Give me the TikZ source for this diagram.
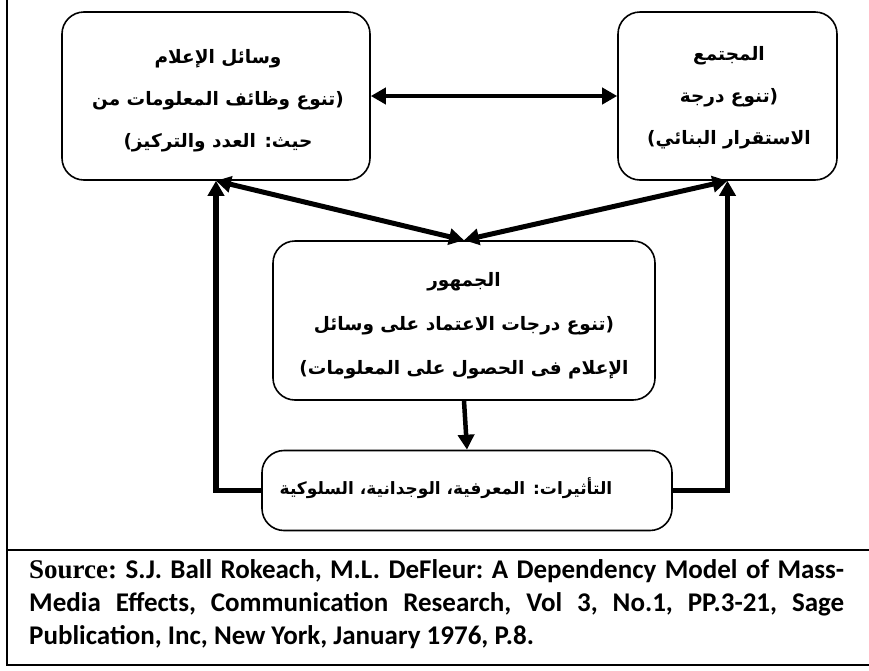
\documentclass[tikz,border=0pt]{standalone}
\usepackage{fontspec}
\setmainfont{Carlito}
\newfontfamily\arabicfont[Script=Arabic]{DejaVu Sans}
\newfontfamily\srcserif{Liberation Serif}
\TeXXeTstate=1
\usetikzlibrary{arrows.meta}
\newcommand{\rtl}[1]{\beginR #1\endR}

\begin{document}
\begin{tikzpicture}[x=1pt,y=-1pt,
  box/.style={draw, line width=1.6pt, rounded corners=22pt, inner sep=0pt},
  arlabel/.style={font=\arabicfont\bfseries\fontsize{18.5}{42}\selectfont, align=center, inner sep=0pt},
  flow/.style={line width=5.5pt, -{Triangle[length=15pt,width=16pt]}},
  both/.style={line width=5pt, {Triangle[length=15pt,width=16pt]}-{Triangle[length=15pt,width=16pt]}},
  frame/.style={line width=1.4pt}
  ]
\useasboundingbox (0,0) rectangle (869,670);

% boxes
\node[box, minimum width=308pt, minimum height=168pt] (media) at (216,96) {};
\node[box, minimum width=219pt, minimum height=168pt] (society) at (727.5,96) {};
\node[box, minimum width=382pt, minimum height=159pt] (audience) at (464,320.5) {};
\node[box, minimum width=410pt, minimum height=80pt] (effects) at (467,490.5) {};

% box texts
\node[arlabel] (media-txt) at (218,101) {\rtl{وسائل الإعلام}\\\rtl{(تنوع وظائف المعلومات من}\\\rtl{حيث: العدد والتركيز)}};
\node[arlabel] (society-txt) at (729,98) {\rtl{المجتمع}\\\rtl{(تنوع درجة}\\\rtl{الاستقرار البنائي)}};
\node[arlabel, font=\arabicfont\bfseries\fontsize{18.5}{44}\selectfont] (audience-txt) at (464,326) {\rtl{الجمهور}\\\rtl{(تنوع درجات الاعتماد على وسائل}\\\rtl{الإعلام فى الحصول على المعلومات)}};
\node[arlabel, font=\arabicfont\bfseries\fontsize{17}{42}\selectfont] (effects-txt) at (446,488) {\rtl{التأثيرات: المعرفية، الوجدانية، السلوكية}};

% connectors
\draw[both, line width=4.5pt] (media.east) -- (society.west);
\draw[both] (media.south) -- (audience.north);
\draw[both] (society.south) -- (audience.north);
\draw[flow, line width=4.5pt] (audience.south) -- (effects.north);
\draw[flow] (effects.west) -| (media.south);
\draw[flow] (effects.east) -| (society.south);

% frame and source note
\draw[frame] (7,0) -- (7,665) -- (869,665);
\draw[frame] (7,550) -- (869,550);
\node[anchor=north west, text width=815pt, align=justify, inner sep=0pt,
      font=\bfseries\fontsize{27}{33}\selectfont] (source) at (29,559.5)
  {\frenchspacing{\srcserif Source:} S.J. Ball Rokeach, M.L. DeFleur: A Dependency Model of Mass-\linebreak Media Effects, Communication Research, Vol 3, No.1, PP.3-21, Sage\linebreak Publication, Inc, New York, January 1976, P.8.};
\end{tikzpicture}
\end{document}
